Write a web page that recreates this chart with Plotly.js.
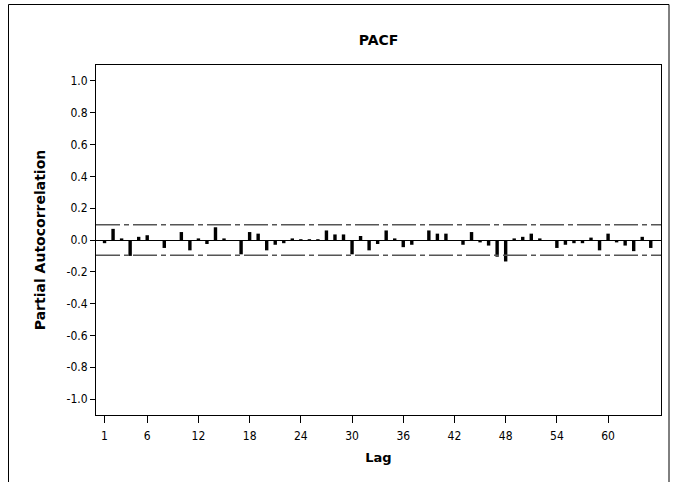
<!DOCTYPE html>
<html>
<head>
<meta charset="utf-8">
<script src="https://cdn.plot.ly/plotly-3.0.1.min.js"></script>
<style>
html,body{margin:0;padding:0;background:#fff;}
#chart{width:681px;height:482px;}
</style>
</head>
<body>
<div id="chart"></div>
<script>
// Lags 1..65 and partial autocorrelation values
const lags = Array.from({length: 65}, (_, i) => i + 1);
const pacf = [
  -0.02, 0.07, 0.01, -0.10, 0.02, 0.03, 0.00, -0.05, 0.00, 0.05,
  -0.065, 0.01, -0.025, 0.08, 0.01, 0.00, -0.09, 0.05, 0.04, -0.065,
  -0.03, -0.02, 0.01, 0.005, 0.005, 0.005, 0.06, 0.035, 0.035, -0.09,
  0.025, -0.065, -0.025, 0.06, 0.01, -0.045, -0.03, 0.00, 0.06, 0.04,
  0.04, 0.00, -0.03, 0.05, -0.015, -0.035, -0.105, -0.135, 0.01, 0.02,
  0.04, 0.01, 0.00, -0.05, -0.03, -0.02, -0.02, 0.015, -0.065, 0.04,
  -0.015, -0.035, -0.07, 0.02, -0.05
];
const confLimit = 0.096;
const xTickVals = [1, 6, 12, 18, 24, 30, 36, 42, 48, 54, 60];
const yTickVals = [-1.0, -0.8, -0.6, -0.4, -0.2, 0.0, 0.2, 0.4, 0.6, 0.8, 1.0];

const TICKFONT = '"DejaVu Sans Condensed", "DejaVu Sans", Verdana, sans-serif';
const TITLEFONT = '"DejaVu Sans", Verdana, sans-serif';
const W = 681, H = 482;
const M = {l: 96, r: 20, t: 65, b: 67};
const pw = W - M.l - M.r, ph = H - M.t - M.b;
function px(x){ return (x - M.l) / pw; }
function py(y){ return (H - M.b - y) / ph; }

const traces = [{
  type: 'bar',
  x: lags,
  y: pacf,
  width: 0.4,
  marker: {color: '#000000', line: {width: 0}},
  hoverinfo: 'x+y'
}];

const dashStyle = '24px,4px,5px,4px';
const layout = {
  width: W, height: H,
  margin: M,
  paper_bgcolor: '#ffffff',
  plot_bgcolor: '#ffffff',
  showlegend: false,
  font: {family: TICKFONT, size: 12, color: '#000'},
  title: {
    text: '<b>PACF</b>',
    font: {family: TITLEFONT, size: 14, color: '#000'},
    x: 0.5, xref: 'paper', xanchor: 'center',
    y: 1 - 40 / H, yref: 'container', yanchor: 'middle'
  },
  xaxis: {
    range: [0, 66.2],
    tickvals: xTickVals,
    ticktext: xTickVals.map(String),
    ticks: 'outside', ticklen: 7, tickcolor: '#000', tickwidth: 1,
    ticklabelstandoff: 3,
    showgrid: false, zeroline: false,
    showline: true, linecolor: '#000', linewidth: 1, mirror: true,
    tickfont: {family: TICKFONT, size: 12, color: '#000'},
    title: {text: '<b>Lag</b>', font: {family: TITLEFONT, size: 13, color: '#000'}, standoff: 10}
  },
  yaxis: {
    range: [-1.1, 1.1],
    tickvals: yTickVals,
    ticktext: yTickVals.map(v => v.toFixed(1)),
    ticks: 'outside', ticklen: 5, tickcolor: '#000', tickwidth: 1,
    showgrid: false,
    zeroline: true, zerolinecolor: '#000', zerolinewidth: 1,
    showline: true, linecolor: '#000', linewidth: 1, mirror: true,
    tickfont: {family: TICKFONT, size: 12, color: '#000'},
    title: {text: '<b>Partial Autocorrelation</b>', font: {family: TITLEFONT, size: 14, color: '#000'}, standoff: 17}
  },
  shapes: [
    {type: 'line', xref: 'paper', yref: 'y', x0: 0, x1: 1, y0: confLimit, y1: confLimit,
     line: {color: '#555', width: 1.5, dash: dashStyle}},
    {type: 'line', xref: 'paper', yref: 'y', x0: 0, x1: 1, y0: -confLimit, y1: -confLimit,
     line: {color: '#555', width: 1.5, dash: dashStyle}},
    // outer frame
    {type: 'line', xref: 'paper', yref: 'paper', x0: px(8.5), x1: px(8.5), y0: py(4.5), y1: py(490),
     line: {color: '#000', width: 1}},
    {type: 'line', xref: 'paper', yref: 'paper', x0: px(8.5), x1: px(669), y0: py(4.5), y1: py(4.5),
     line: {color: '#000', width: 1}},
    {type: 'line', xref: 'paper', yref: 'paper', x0: px(669), x1: px(669), y0: py(4.5), y1: py(490),
     line: {color: '#000', width: 1}}
  ]
};

Plotly.newPlot('chart', traces, layout, {displayModeBar: false, staticPlot: true});
</script>
</body>
</html>
